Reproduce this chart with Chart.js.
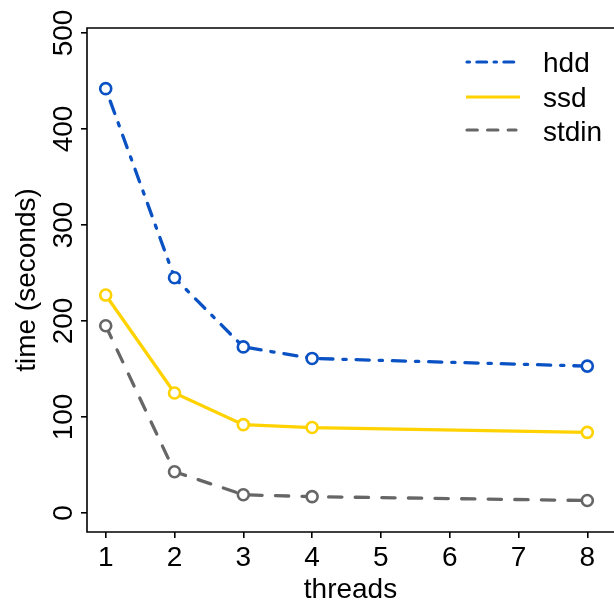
<!DOCTYPE html>
<html>
<head>
<meta charset="utf-8">
<script src="https://cdn.jsdelivr.net/npm/chart.js@4.4.1/dist/chart.umd.min.js"></script>
<style>
html,body{margin:0;padding:0;background:#fff;}
#wrap{width:614px;height:602px;position:relative;}
</style>
</head>
<body>
<div id="wrap"><canvas id="c" width="614" height="602"></canvas></div>
<script>
const threads = [1, 2, 3, 4, 8];
const hdd = [442, 245, 173, 161, 153];
const ssd = [227, 125, 92, 89, 84];
const stdin = [195, 43, 19, 17, 13];
const xTicks = [1, 2, 3, 4, 5, 6, 7, 8];
const yTicks = [0, 100, 200, 300, 400, 500];
const seriesNames = ['hdd', 'ssd', 'stdin'];
const xTitle = 'threads';
const yTitle = 'time (seconds)';

const colors = ['#0a52c4', '#ffd200', '#666666'];
const dashes = [[3.3, 9.9, 13.2, 9.9], [], [13.3, 13.3]];
const legendDashes = [[2.45, 7.4, 9.8, 7.4], [], [10.3, 10.3]];
const FONT = 'Liberation Sans, Arial, sans-serif';
const FS = 28;

function pts(vals) { return threads.map((t, i) => ({x: t, y: vals[i]})); }

const datasets = [hdd, ssd, stdin].map((vals, i) => ({
  label: seriesNames[i],
  data: pts(vals),
  borderColor: colors[i],
  backgroundColor: '#ffffff',
  borderWidth: 3.3,
  borderDash: dashes[i],
  borderCapStyle: i === 1 ? 'butt' : 'round',
  pointRadius: 5.5,
  pointBorderWidth: 2.6,
  pointBackgroundColor: '#ffffff',
  pointBorderColor: colors[i],
  tension: 0,
  fill: false
}));

const framePlugin = {
  id: 'frame',
  afterDraw(chart) {
    const {ctx, chartArea: a} = chart;
    const ys = chart.scales.y;
    const xs = chart.scales.x;
    ctx.save();
    ctx.strokeStyle = '#000';
    ctx.lineWidth = 1.6;
    ctx.setLineDash([]);
    ctx.beginPath();
    ctx.moveTo(a.right + 2, a.top);
    ctx.lineTo(a.left, a.top);
    ctx.lineTo(a.left, a.bottom);
    ctx.lineTo(a.right + 2, a.bottom);
    ctx.stroke();

    ctx.fillStyle = '#000';
    ctx.font = FS + 'px ' + FONT;
    // y tick labels (rotated)
    yTicks.forEach(v => {
      const py = ys.getPixelForValue(v);
      ctx.save();
      ctx.translate(72, py);
      ctx.rotate(-Math.PI / 2);
      ctx.textAlign = 'center';
      ctx.textBaseline = 'alphabetic';
      ctx.fillText(String(v), 0, 0);
      ctx.restore();
    });
    // x tick labels
    ctx.textAlign = 'center';
    ctx.textBaseline = 'alphabetic';
    xTicks.forEach(v => {
      ctx.fillText(String(v), xs.getPixelForValue(v), 566);
    });
    // y title
    ctx.save();
    ctx.translate(35, (a.top + a.bottom) / 2);
    ctx.rotate(-Math.PI / 2);
    ctx.textAlign = 'center';
    ctx.textBaseline = 'alphabetic';
    ctx.fillText(yTitle, 0, 0);
    ctx.restore();
    // x title
    ctx.textAlign = 'center';
    ctx.textBaseline = 'alphabetic';
    ctx.fillText(xTitle, (a.left + a.right) / 2, 598);

    // legend
    const lineY = [62, 97, 130];
    const textY = [72, 107, 141];
    ctx.textAlign = 'left';
    seriesNames.forEach((n, i) => {
      ctx.strokeStyle = colors[i];
      ctx.lineWidth = 3.2;
      ctx.lineCap = i === 1 ? 'butt' : 'round';
      ctx.setLineDash(legendDashes[i]);
      ctx.beginPath();
      ctx.moveTo(i === 1 ? 466 : 467, lineY[i]);
      ctx.lineTo(i === 1 ? 520 : 516, lineY[i]);
      ctx.stroke();
      ctx.setLineDash([]);
      ctx.fillStyle = '#000';
      ctx.fillText(n, 543, textY[i]);
    });
    ctx.restore();
  }
};

new Chart(document.getElementById('c'), {
  type: 'line',
  data: {datasets},
  options: {
    responsive: false,
    animation: false,
    devicePixelRatio: 1,
    layout: {autoPadding: false, padding: {top: 28, right: 0, left: 0, bottom: 0}},
    plugins: {legend: {display: false}, tooltip: {enabled: false}},
    scales: {
      x: {
        type: 'linear',
        min: 0.728,
        max: 8.388,
        afterFit(s) { s.height = 70; s.paddingLeft = 0; s.paddingRight = 0; },
        afterBuildTicks(s) { s.ticks = xTicks.map(v => ({value: v})); },
        border: {display: false},
        grid: {display: true, drawOnChartArea: false, drawTicks: true, tickLength: 6, color: '#000', lineWidth: 1.6},
        ticks: {display: false},
        title: {display: false}
      },
      y: {
        type: 'linear',
        min: -19.8,
        max: 505.2,
        afterFit(s) { s.width = 87; s.paddingTop = 0; s.paddingBottom = 0; },
        afterBuildTicks(s) { s.ticks = yTicks.map(v => ({value: v})); },
        border: {display: false},
        grid: {display: true, drawOnChartArea: false, drawTicks: true, tickLength: 6, color: '#000', lineWidth: 1.6},
        ticks: {display: false},
        title: {display: false}
      }
    }
  },
  plugins: [framePlugin]
});
</script>
</body>
</html>
